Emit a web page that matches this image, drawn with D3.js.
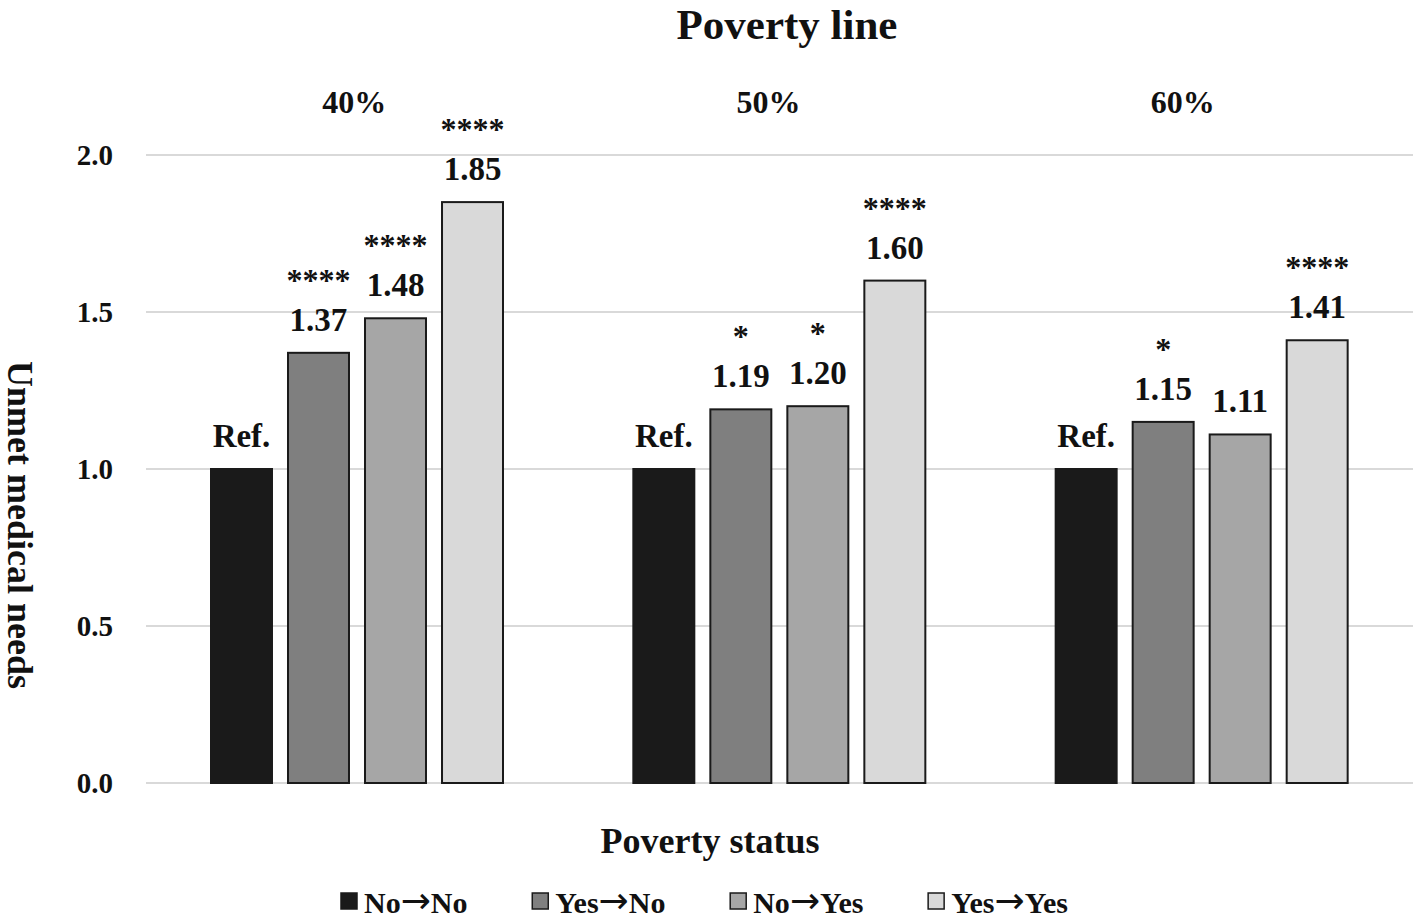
<!DOCTYPE html>
<html>
<head>
<meta charset="utf-8">
<script src="https://cdn.jsdelivr.net/npm/d3@7"></script>
<style>
  html, body { margin: 0; padding: 0; background: #fff; }
  svg text { font-family: "Liberation Serif", "Times New Roman", serif; font-weight: bold; fill: #111; }
</style>
</head>
<body>
<svg id="chart" width="1416" height="922"></svg>
<script>
// ---- data ----
const groups = ["40%", "50%", "60%"];
const series = ["No→No", "Yes→No", "No→Yes", "Yes→Yes"];
const values40 = [1.00, 1.37, 1.48, 1.85];
const values50 = [1.00, 1.19, 1.20, 1.60];
const values60 = [1.00, 1.15, 1.11, 1.41];
const stars40 = ["", "****", "****", "****"];
const stars50 = ["", "*", "*", "****"];
const stars60 = ["", "*", "", "****"];
const yTicks = [0.0, 0.5, 1.0, 1.5, 2.0];
const colors = ["#1a1a1a", "#7f7f7f", "#a6a6a6", "#d9d9d9"];

const valuesByGroup = [values40, values50, values60];
const starsByGroup = [stars40, stars50, stars60];
const rows = [];
groups.forEach((g, gi) => series.forEach((s, si) => rows.push({
  group: g, series: s, si, value: valuesByGroup[gi][si], stars: starsByGroup[gi][si]
})));

const svg = d3.select("#chart");
const margin = {left: 146, right: 3, top: 155, bottom: 139};
const W = 1416, H = 922;
const x0 = d3.scaleBand().domain(groups).range([margin.left, W - margin.right]);
const x1 = d3.scaleBand().domain(series).range([65, 357]).paddingInner(0.208);
const y = d3.scaleLinear().domain([0, 2]).range([H - margin.bottom, margin.top]);

// gridlines
svg.append("g").selectAll("line").data(yTicks).join("line")
  .attr("x1", margin.left).attr("x2", W - margin.right)
  .attr("y1", d => y(d)).attr("y2", d => y(d))
  .attr("stroke", "#d9d9d9").attr("stroke-width", 2);

// y axis tick labels
const yAxis = d3.axisLeft(y).tickValues(yTicks).tickFormat(d3.format(".1f")).tickSize(0).tickPadding(33);
const ya = svg.append("g").attr("transform", `translate(${margin.left},0)`).call(yAxis);
ya.select(".domain").remove();
ya.selectAll("text").style("font-size", "29px").style("font-family", "Liberation Serif").style("font-weight", "bold").attr("fill", "#111");

// bars
svg.append("g").selectAll("rect").data(rows).join("rect")
  .attr("x", d => x0(d.group) + x1(d.series))
  .attr("width", x1.bandwidth())
  .attr("y", d => y(d.value))
  .attr("height", d => y(0) - y(d.value))
  .attr("fill", d => colors[d.si])
  .attr("stroke", "#1a1a1a").attr("stroke-width", 2);

// value labels
svg.append("g").selectAll("text").data(rows).join("text")
  .attr("x", d => x0(d.group) + x1(d.series) + x1.bandwidth() / 2)
  .attr("y", d => y(d.value) - 22)
  .attr("text-anchor", "middle")
  .style("font-size", "33px")
  .text(d => d.si === 0 ? "Ref." : d.value.toFixed(2));

// significance stars
svg.append("g").selectAll("text").data(rows.filter(d => d.stars)).join("text")
  .attr("x", d => x0(d.group) + x1(d.series) + x1.bandwidth() / 2)
  .attr("y", d => y(d.value) - 62)
  .attr("text-anchor", "middle")
  .style("font-size", "32px")
  .text(d => d.stars);

// group labels
svg.append("g").selectAll("text").data(groups).join("text")
  .attr("x", (d, i) => x0(d) + x0.bandwidth() / 2 - 3 - 8 * i)
  .attr("y", 113)
  .attr("text-anchor", "middle")
  .style("font-size", "32px")
  .text(d => d);

// title
svg.append("text").attr("x", 787).attr("y", 39).attr("text-anchor", "middle")
  .style("font-size", "43px").text("Poverty line");

// x axis title
svg.append("text").attr("x", 710).attr("y", 853).attr("text-anchor", "middle")
  .style("font-size", "36px").text("Poverty status");

// y axis title
svg.append("text").attr("transform", "translate(8,525) rotate(90)")
  .attr("text-anchor", "middle").style("font-size", "36px").text("Unmet medical needs");

// legend
const leg = svg.append("g");
const items = leg.selectAll("g").data(series).join("g");
items.append("rect").attr("width", 16).attr("height", 16).attr("y", -20)
  .attr("fill", (d, i) => colors[i]).attr("stroke", "#1a1a1a").attr("stroke-width", 1.5);
const lt = items.append("text").attr("x", 23).attr("y", 0).style("font-size", "30px");
lt.each(function(d) {
  const parts = d.split("→");
  const t = d3.select(this);
  t.append("tspan").text(parts[0]);
  t.append("tspan").style("font-family", "DejaVu Sans").style("font-weight", "normal")
    .style("font-size", "36px").text("→");
  t.append("tspan").text(parts[1]);
});
const widths = [];
items.each(function() { widths.push(this.getBBox().width); });
const legendStart = 341, legendEnd = 1068;
const gap = (legendEnd - legendStart - d3.sum(widths)) / (series.length - 1);
let cx = 0;
items.each(function(d, i) {
  d3.select(this).attr("transform", `translate(${cx},0)`);
  cx += widths[i] + gap;
});
leg.attr("transform", `translate(${legendStart},913)`);
</script>
</body>
</html>
